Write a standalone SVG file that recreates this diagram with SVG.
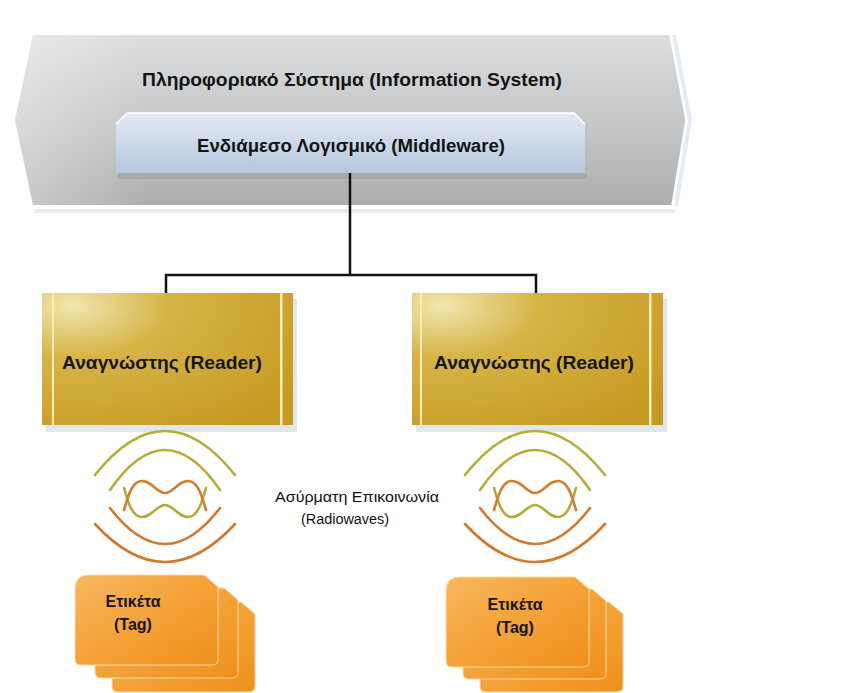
<svg xmlns="http://www.w3.org/2000/svg" width="857" height="693" viewBox="0 0 857 693">
  <defs>
    <linearGradient id="gBanner" x1="0" y1="0" x2="0" y2="1">
      <stop offset="0" stop-color="#dcdddf"/>
      <stop offset="0.55" stop-color="#c4c5c7"/>
      <stop offset="1" stop-color="#adaeb0"/>
    </linearGradient>
    <linearGradient id="gBannerSide" x1="0" y1="0" x2="1" y2="0">
      <stop offset="0" stop-color="#ffffff" stop-opacity="0.35"/>
      <stop offset="0.2" stop-color="#ffffff" stop-opacity="0"/>
    </linearGradient>
    <linearGradient id="gMid" x1="0" y1="0" x2="0" y2="1">
      <stop offset="0" stop-color="#e3eaf4"/>
      <stop offset="1" stop-color="#b6c6de"/>
    </linearGradient>
    <radialGradient id="gReader" cx="0.12" cy="0.1" r="1.1">
      <stop offset="0" stop-color="#f1e6b0"/>
      <stop offset="0.35" stop-color="#d6b446"/>
      <stop offset="1" stop-color="#c69a22"/>
    </radialGradient>
    <linearGradient id="gTag" x1="0" y1="0" x2="1" y2="1">
      <stop offset="0" stop-color="#f7b860"/>
      <stop offset="0.5" stop-color="#f4a238"/>
      <stop offset="1" stop-color="#ef901c"/>
    </linearGradient>
    <path id="card" d="M0,14 Q0,0 14,0 L129,0 L143,12 L143,84 Q143,90 137,90 L6,90 Q0,90 0,84 Z"/>
    <g id="waves" fill="none" stroke-width="2.6" stroke-linecap="round">
      <!-- upper arcs -->
      <path d="M-70,475 Q0,387 70,475" stroke="#b4ae3c"/>
      <path d="M-55,490 Q0,410 55,490" stroke="#b9aa3a"/>
      <!-- crossing inner waves -->
      <path d="M-41,488 C-37,502 -33,516 -24,517 C-14,518 -8,505 0,505 C8,505 14,518 24,517 C33,516 37,502 41,488" stroke="#b3aa3a"/>
      <path d="M-41,510 C-37,496 -33,482 -24,481 C-14,480 -8,493 0,493 C8,493 14,480 24,481 C33,482 37,496 41,510" stroke="#d27e30"/>
      <!-- lower arcs -->
      <path d="M-55,508 Q0,580 55,508" stroke="#cf7a30"/>
      <path d="M-70,524 Q0,600 70,524" stroke="#d07a30"/>
    </g>
  </defs>
  <style>
    text { font-family: "Liberation Sans", Arial, sans-serif; font-weight: bold; fill: #141414; text-anchor: middle; }
    .conn { fill: none; stroke: #111; stroke-width: 2.5; }
    .lbl { font-size: 14px; font-weight: normal; fill: #111; }
  </style>

  <rect width="857" height="693" fill="#ffffff"/>

  <!-- information system banner -->
  <g id="information-system">
    <polygon points="35,209 674,209 676,213 35,213" fill="#e8ecf2"/>
    <polygon points="672,35 688,120 674,206 678,206 692,120 676,35" fill="#e4ebf4"/>
    <polygon points="33,35 670,35 686,120 672,205 33,205 15,120" fill="url(#gBanner)"/>
    <polygon points="33,35 670,35 686,120 672,205 33,205 15,120" fill="url(#gBannerSide)"/>
    <polyline points="670,35 686,120 672,205" fill="none" stroke="#ffffff" stroke-width="1.5"/>
    <text x="352" y="86" font-size="18.5" textLength="420" lengthAdjust="spacingAndGlyphs">Πληροφοριακό Σύστημα (Information System)</text>
  </g>

  <!-- middleware -->
  <g id="middleware">
    <rect x="118" y="173" width="469" height="6" fill="#9fa0a2" opacity="0.6"/>
    <polygon points="116,124 127,113 574,113 585,124 585,173 116,173" fill="url(#gMid)"/>
    <polyline points="116,124 127,113 574,113 585,124" fill="none" stroke="#ffffff" stroke-width="1.5"/>
    <text x="351" y="152" font-size="17.5" textLength="308" lengthAdjust="spacingAndGlyphs">Ενδιάμεσο Λογισμικό (Middleware)</text>
  </g>

  <!-- connectors -->
  <g id="connectors">
    <path class="conn" d="M350,173 V275"/>
    <path class="conn" d="M166,293 V275 H536 V293"/>
  </g>

  <!-- readers -->
  <g id="reader-left">
    <rect x="46" y="299" width="251" height="133" fill="#dfe6ee"/>
    <rect x="42" y="293" width="251" height="132" fill="url(#gReader)"/>
    <rect x="52" y="293" width="2" height="132" fill="#f6eeb4"/>
    <rect x="280" y="293" width="2.5" height="132" fill="#f6eeb4"/>
    <text x="162" y="369" font-size="18.5" textLength="200" lengthAdjust="spacingAndGlyphs">Αναγνώστης (Reader)</text>
  </g>
  <g id="reader-right">
    <rect x="416" y="299" width="251" height="133" fill="#dfe6ee"/>
    <rect x="412" y="293" width="251" height="132" fill="url(#gReader)"/>
    <rect x="420" y="293" width="2" height="132" fill="#f6eeb4"/>
    <rect x="649" y="293" width="2.5" height="132" fill="#f6eeb4"/>
    <text x="534" y="369" font-size="18.5" textLength="200" lengthAdjust="spacingAndGlyphs">Αναγνώστης (Reader)</text>
  </g>

  <!-- radio waves -->
  <g id="radio-left">
    <use href="#waves" x="165"/>
  </g>
  <g id="radio-right">
    <use href="#waves" x="535"/>
  </g>
  <g id="radio-label">
    <text class="lbl" x="357" y="502" textLength="164" lengthAdjust="spacingAndGlyphs">Ασύρματη Επικοινωνία</text>
    <text class="lbl" x="345" y="524" textLength="88" lengthAdjust="spacingAndGlyphs">(Radiowaves)</text>
  </g>

  <!-- tags -->
  <g id="tag-left">
    <use href="#card" x="112" y="602" fill="url(#gTag)" stroke="#fbd9a8" stroke-width="1"/>
    <use href="#card" x="95" y="588" fill="url(#gTag)" stroke="#fbd9a8" stroke-width="1"/>
    <use href="#card" x="75" y="575" fill="url(#gTag)" stroke="#fbd9a8" stroke-width="1"/>
    <text x="133" y="607" font-size="16">Ετικέτα</text>
    <text x="133" y="630" font-size="16">(Tag)</text>
  </g>
  <g id="tag-right">
    <use href="#card" x="480" y="602" fill="url(#gTag)" stroke="#fbd9a8" stroke-width="1"/>
    <use href="#card" x="463" y="589" fill="url(#gTag)" stroke="#fbd9a8" stroke-width="1"/>
    <use href="#card" x="446" y="577" fill="url(#gTag)" stroke="#fbd9a8" stroke-width="1"/>
    <text x="515" y="610" font-size="16">Ετικέτα</text>
    <text x="515" y="633" font-size="16">(Tag)</text>
  </g>
</svg>
